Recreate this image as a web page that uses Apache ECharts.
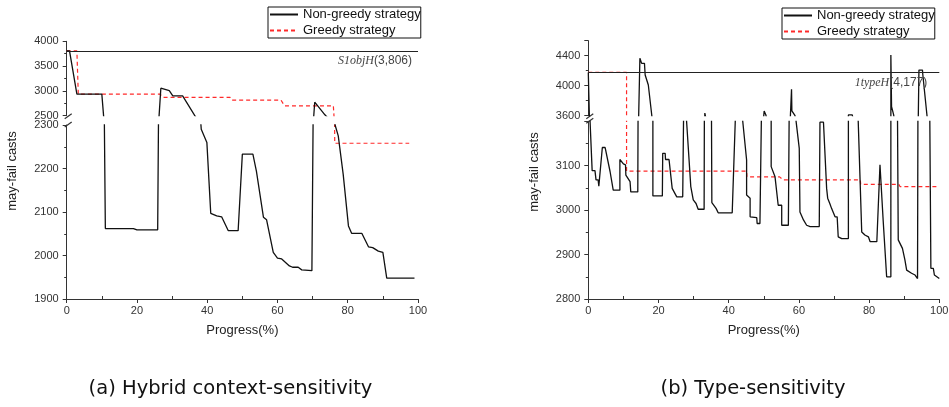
<!DOCTYPE html>
<html><head><meta charset="utf-8">
<script src="https://cdn.jsdelivr.net/npm/echarts@6/dist/echarts.min.js"></script>
<style>html,body{margin:0;padding:0;background:#fff}#c{width:949px;height:407px}</style>
</head><body><div id="c"></div>
<script>
// ---------------- data ----------------
const seriesNames = ['Non-greedy strategy', 'Greedy strategy'];

// (a) Hybrid context-sensitivity
const progressA_nonGreedy = [0,0.8,2.9,10,11,19,20,25.9,26.8,29.2,30.2,33,38.3,39.9,41,42.7,44.1,46,48.8,50,53,54,56,56.9,58.8,60,61.2,63.4,64.3,65.9,66.9,69.8,70.6,73.5,76.4,77.3,78.7,80.2,81.1,84,85.9,87.1,88.7,90,91.1,99];
const castsA_nonGreedy    = [3806,3806,2935,2935,2062,2062,2059,2059,3054,3006,2900,2900,2290,2260,2097,2091,2089,2057,2057,2233,2233,2194,2088,2082,2007,1994,1992,1976,1973,1973,1967,1965,2772,2518,2300,2275,2187,2068,2051,2051,2020,2018,2010,2007,1948,1948];
const progressA_greedy = [0,2.9,3.3,26.5,27.5,46.5,47,61,62,75.9,76.3,97.5];
const castsA_greedy    = [3806,3806,2935,2935,2868,2868,2815,2815,2700,2700,2258,2258];
const refA = {name:'S1objH', value:3806};

// (b) Type-sensitivity
const progressB_nonGreedy = [0,0.3,0.5,1.1,1.9,2.2,2.8,3.0,4.0,4.8,6.2,7.1,9.0,9.0,10.0,10.6,10.7,11.9,12.1,14.1,14.7,15.2,16.0,16.2,17.1,18.1,18.4,18.4,21.1,21.2,21.9,22.0,23.0,23.9,25.2,26.9,27.4,28.0,29.2,29.9,30.7,31.3,33.0,33.2,35.1,35.2,36.4,37.0,41.0,42.5,44.0,45.1,45.1,46.1,46.1,48.0,48.1,48.9,50.1,50.6,52.1,52.1,53.2,54.1,55.1,55.1,57.0,57.9,58.0,58.9,59.2,60.1,60.3,61.3,62.2,63.2,65.8,66.0,67.0,67.2,67.9,68.2,68.8,69.3,69.8,70.3,70.9,71.2,72.2,74.1,74.1,75.2,76.9,77.9,78.8,79.8,80.3,82.2,83.1,84.0,85.0,86.2,86.2,86.4,87.0,88.1,88.3,89.5,90.2,90.7,92.1,93.1,93.8,94.2,94.2,95.2,95.3,96.5,97.3,97.6,98.3,98.6,99.3,99.7,100];
const castsB_nonGreedy    = [4177,3600,3200,3089,3089,3068,3068,3054,3141,3141,3087,3045,3045,3114,3104,3102,3079,3064,3041,3041,4365,4298,4298,4143,4009,3600,3200,3032,3032,3128,3128,3114,3114,3049,3030,3030,3400,3200,3053,3023,3015,3002,3002,3635,3200,3017,3004,2994,2994,3350,3200,3113,3034,3027,2985,2983,2970,2970,3663,3610,3200,3098,3075,3011,3011,2966,2966,3952,3665,3600,3200,3139,2996,2978,2966,2963,2963,3198,3198,3195,3049,3027,3015,3004,3000,2985,2985,2940,2936,2936,3610,3610,3200,2951,2944,2940,2929,2929,3102,2978,2850,2850,4409,3720,3610,3200,2933,2914,2888,2865,2858,2854,2846,2846,4209,4209,4150,3600,3200,2869,2869,2854,2850,2846,2846];
const progressB_greedy = [0,10.9,10.9,45.1,45.2,54.5,55.5,77.5,77.6,88.5,88.8,100];
const castsB_greedy    = [4177,4177,3088,3088,3075,3075,3068,3068,3058,3058,3053,3053];
const refB = {name:'1typeH', value:4177};

// axis ticks
const xTicks = [0,20,40,60,80,100];
const yTicksA_upper = [2500,3000,3500,4000];
const yTicksA_lower = [1900,2000,2100,2200,2300];
const yTicksB_upper = [3600,4000,4400];
const yMaxB_upper = 4600;
const yTicksB_lower = [2800,2900,3000,3100];
const yMaxB_lower = 3200;

const captions = ['(a) Hybrid context-sensitivity', '(b) Type-sensitivity'];
const yName = 'may-fail casts';
const xName = 'Progress(%)';

// ---------------- layout ----------------
const LA = {left:66.7, width:351.3, upTop:41.3, upH:74.4, lowTop:125, lowH:174};
const LB = {left:588.3, width:351, upTop:40.7, upH:75, lowTop:121.3, lowH:177.7};
const SANS = 'Liberation Sans, Arial, sans-serif';
const AX = '#333';
const plain = v => String(v);

function pairs(xs, ys){ return xs.map((x,i)=>[x, ys[i]]); }

function grid(L, upper){
  return {left:L.left, width:L.width, top: upper?L.upTop:L.lowTop, height: upper?L.upH:L.lowH,
          containLabel:false, outerBoundsMode:'none'};
}
function xAxis(gi, show){
  const step = xTicks[1]-xTicks[0];
  return {type:'value', gridIndex:gi, min:xTicks[0], max:xTicks[xTicks.length-1], interval:step,
    show: show,
    axisLine:{show:true, onZero:false, lineStyle:{color:AX, width:1}},
    axisTick:{show:true, length:4, lineStyle:{color:AX}},
    minorTick:{show:false},
    splitLine:{show:false}, minorSplitLine:{show:false},
    axisLabel:{fontFamily:SANS, fontSize:11, color:'#333', margin:6, formatter:plain},
    name: show? xName : '', nameLocation:'middle', nameGap:25,
    nameTextStyle:{fontFamily:SANS, fontSize:13, color:'#222'}};
}
// companion axis: only inward minor ticks on the x axis
function xMinorAxis(gi){
  const step = xTicks[1]-xTicks[0];
  return {type:'value', gridIndex:gi, min:xTicks[0], max:xTicks[xTicks.length-1], interval:step,
    position:'bottom', show:true,
    axisLine:{show:false, onZero:false}, axisLabel:{show:false},
    axisTick:{show:false, inside:true},
    minorTick:{show:true, splitNumber:2, length:3, lineStyle:{color:AX}},
    splitLine:{show:false}, minorSplitLine:{show:false}};
}
function yAxis(gi, ticks, max, showMax){
  const step = ticks[1]-ticks[0];
  return {type:'value', gridIndex:gi, min:ticks[0], max:max, interval:step,
    axisLine:{show:true, onZero:false, lineStyle:{color:AX, width:1}},
    axisTick:{show:true, length:4, lineStyle:{color:AX}},
    minorTick:{show:true, splitNumber:2, length:2.5, lineStyle:{color:AX}},
    splitLine:{show:false}, minorSplitLine:{show:false},
    axisLabel:{fontFamily:SANS, fontSize:11, color:'#333', margin:8, showMaxLabel:showMax, formatter:plain}};
}

function lineSeries(name, xi, yi, xs, ys, dashed){
  return {name:name, type:'line', xAxisIndex:xi, yAxisIndex:yi, data:pairs(xs,ys),
    symbol:'none', showSymbol:false, clip:true, animation:false, silent:true,
    lineStyle: dashed ? {color:'#ff2a2a', width:1.2, type:[4,3]} : {color:'#111', width:1.3},
    itemStyle:{color: dashed ? '#ff2a2a' : '#111'},
    emphasis:{disabled:true}};
}
function refLine(ref, dist){
  const txt = ref.value.toLocaleString('en-US');
  return {silent:true, symbol:['none','none'], animation:false,
    lineStyle:{color:'#222', width:1.2, type:'solid'},
    label:{show:true, position:'insideEndBottom', distance:dist,
      formatter:'{i|'+ref.name+'}{n|('+txt+')}',
      rich:{i:{fontFamily:'Liberation Serif, Times New Roman, serif', fontStyle:'italic', fontSize:12, color:'#444'},
            n:{fontFamily:SANS, fontSize:12, color:'#444'}}},
    data:[{yAxis:ref.value}]};
}

const sA_up_ng = lineSeries(seriesNames[0],0,0,progressA_nonGreedy,castsA_nonGreedy,false);
sA_up_ng.markLine = refLine(refA, [6,4]);
const sB_up_ng = lineSeries(seriesNames[0],2,2,progressB_nonGreedy,castsB_nonGreedy,false);
sB_up_ng.markLine = refLine(refB, [12,4]);

const series = [
  lineSeries(seriesNames[1],0,0,progressA_greedy,castsA_greedy,true),
  lineSeries(seriesNames[1],1,1,progressA_greedy,castsA_greedy,true),
  sA_up_ng,
  lineSeries(seriesNames[0],1,1,progressA_nonGreedy,castsA_nonGreedy,false),
  lineSeries(seriesNames[1],2,2,progressB_greedy,castsB_greedy,true),
  lineSeries(seriesNames[1],3,3,progressB_greedy,castsB_greedy,true),
  sB_up_ng,
  lineSeries(seriesNames[0],3,3,progressB_nonGreedy,castsB_nonGreedy,false)
];

function legend(left, top){
  return {data:seriesNames.slice(), orient:'vertical', left:left, top:top, selectedMode:false,
    borderColor:'#111', borderWidth:1, borderRadius:0, padding:[1,0,1,1],
    itemWidth:28, itemHeight:13, itemGap:3,
    itemStyle:{opacity:0, borderWidth:0},
    textStyle:{fontFamily:SANS, fontSize:13, color:'#111'}};
}

function breakMarks(L){
  const x = L.left, yb = L.upTop + L.upH, yt = L.lowTop;
  const mk = (y)=>({type:'line', silent:true, shape:{x1:x-2, y1:y+2.5, x2:x+5, y2:y-2.5},
                    style:{stroke:AX, lineWidth:1.2}});
  return [mk(yb+0.5), mk(yt-0.5)];
}

const CAPFONT = 'DejaVu Sans, sans-serif';
const graphics = [
  {type:'text', x:12, y:171, rotation:Math.PI/2, silent:true,
   style:{text:yName, fontFamily:SANS, fontSize:13, fill:'#222', align:'center', verticalAlign:'middle'}},
  {type:'text', x:534, y:172, rotation:Math.PI/2, silent:true,
   style:{text:yName, fontFamily:SANS, fontSize:13, fill:'#222', align:'center', verticalAlign:'middle'}},
  {type:'text', x:230.5, y:389, silent:true,
   style:{text:captions[0], fontFamily:CAPFONT, fontSize:19.5, fill:'#111', align:'center', verticalAlign:'middle'}},
  {type:'text', x:753, y:389, silent:true,
   style:{text:captions[1], fontFamily:CAPFONT, fontSize:19.5, fill:'#111', align:'center', verticalAlign:'middle'}}
].concat(breakMarks(LA), breakMarks(LB));

const chart = echarts.init(document.getElementById('c'), null, {renderer:'canvas'});
chart.setOption({
  backgroundColor:'#fff',
  animation:false,
  grid:[grid(LA,true), grid(LA,false), grid(LB,true), grid(LB,false)],
  xAxis:[xAxis(0,false), xAxis(1,true), xAxis(2,false), xAxis(3,true), xMinorAxis(1), xMinorAxis(3)],
  yAxis:[
    yAxis(0, yTicksA_upper, yTicksA_upper[yTicksA_upper.length-1], true),
    yAxis(1, yTicksA_lower, yTicksA_lower[yTicksA_lower.length-1], true),
    yAxis(2, yTicksB_upper, yMaxB_upper, false),
    yAxis(3, yTicksB_lower, yMaxB_lower, false)
  ],
  legend:[legend(268,7), legend(782,8)],
  series:series,
  graphic:graphics
});
</script></body></html>
